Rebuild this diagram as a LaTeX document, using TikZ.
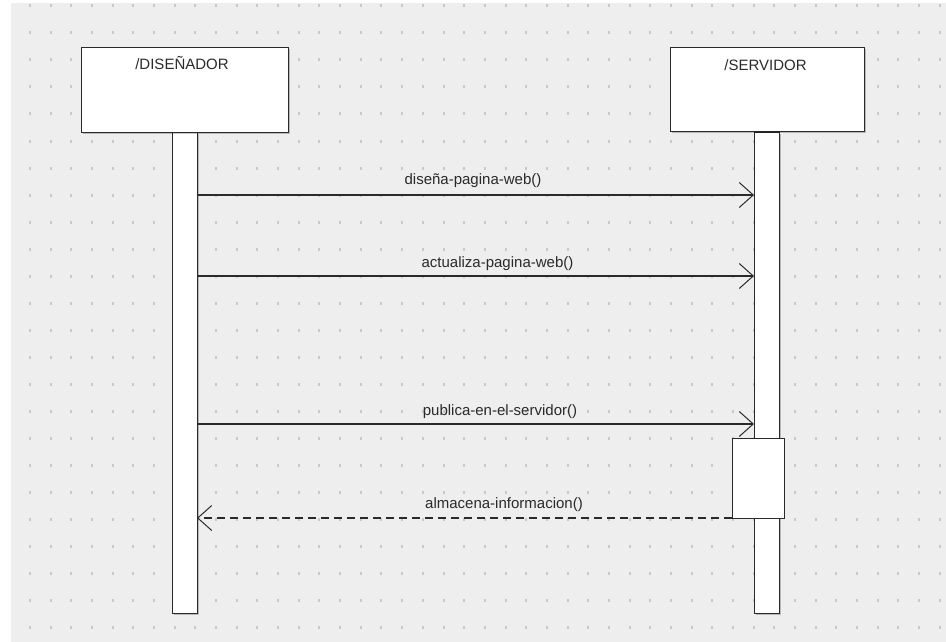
\documentclass[tikz,border=0pt]{standalone}
\usepackage{fontspec}
\setmainfont{Liberation Sans}
\usetikzlibrary{arrows.meta,shadows}
\definecolor{bg}{HTML}{EEEEEE}
\definecolor{dotc}{HTML}{C8C8C8}
\definecolor{ink}{HTML}{2A2A2A}
\begin{document}
\begin{tikzpicture}[x=1pt,y=-1pt,
  boxshadow/.style={drop shadow={shadow xshift=1.5pt,shadow yshift=-1.5pt,fill=black,opacity=0.22}},
  actorbox/.style={draw=ink,line width=1.3pt,fill=white,inner sep=0pt,anchor=north west,
    minimum width=207pt,minimum height=85pt,boxshadow},
  lifebar/.style={draw=ink,line width=1.3pt,fill=white,inner sep=0pt,anchor=north west,
    minimum width=25pt,minimum height=481pt,boxshadow},
  actbox/.style={draw=ink,line width=1.3pt,fill=white,inner sep=0pt,anchor=north west,
    minimum width=52pt,minimum height=80pt},
  txt/.style={text=ink,font=\fontsize{15pt}{18pt}\selectfont,inner sep=0pt,anchor=base},
  msg/.style={draw=ink,line width=1.1pt,-{Straight Barb[length=14pt,width=25pt,line width=1pt]}},
  ret/.style={msg,dash pattern=on 8pt off 5pt}]
\useasboundingbox (0,0) rectangle (946,642);
\fill[white] (0,0) rectangle (946,642);
\fill[bg] (11,3) rectangle (946,642);
\foreach \i in {0,...,44}{
  \foreach \j in {0,...,23}{
    \fill[dotc] ({30+20.675*\i-1},{6+27*\j-1.5}) rectangle ++(2,3);
  }
}
% lifelines
\node[lifebar] (dl) at (172,132) {};
\node[lifebar] (sl) at (754,132) {};
% actors
\node[actorbox] (dis) at (81,47) {};
\node[actorbox,minimum width=194pt,minimum height=84pt] (ser) at (670,47) {};
\node[txt] (disname) at (182,70) {/DISEÑADOR};
\node[txt] (sername) at (765.5,70.5) {/SERVIDOR};
% activation
\node[actbox] (act) at (732,438) {};
% message endpoints
\coordinate (d1) at (197,195);  \coordinate (s1) at (754,195);
\coordinate (d2) at (197,276);  \coordinate (s2) at (754,276);
\coordinate (d3) at (197,424);  \coordinate (s3) at (754,424);
\coordinate (d4) at (197,518);  \coordinate (s4) at (732,518);
\draw[msg] (d1) -- (s1);
\draw[msg] (d2) -- (s2);
\draw[msg] (d3) -- (s3);
\draw[ret] (s4) -- (d4);
\node[txt] (m1) at (473,184) {diseña-pagina-web()};
\node[txt] (m2) at (497.5,267) {actualiza-pagina-web()};
\node[txt] (m3) at (500,415.5) {publica-en-el-servidor()};
\node[txt] (m4) at (504,508) {almacena-informacion()};
\end{tikzpicture}
\end{document}
